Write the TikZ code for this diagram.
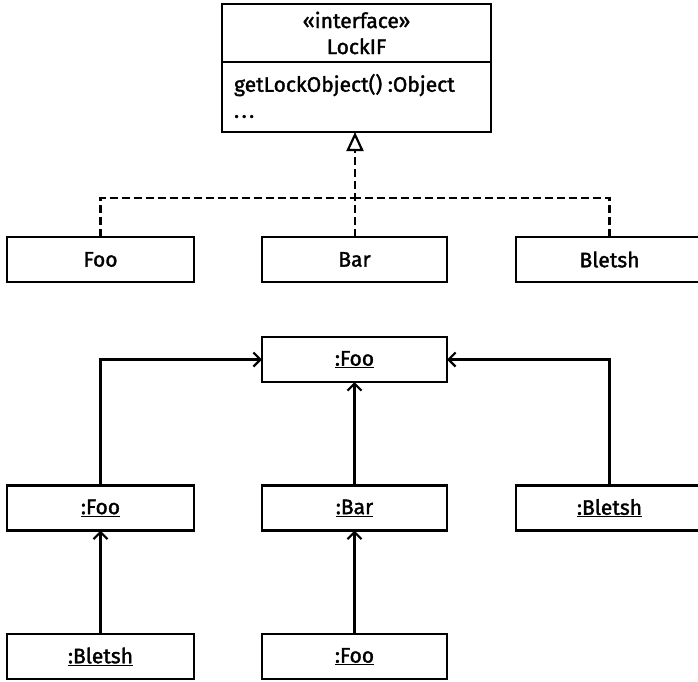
\documentclass[tikz,border=0pt]{standalone}
\usepackage{fontspec}
\setmainfont{Fira Sans}[FakeBold=1.6]
\usetikzlibrary{arrows.meta}
\begin{document}
\begin{tikzpicture}[x=1pt,y=-1pt,
  font=\fontsize{21}{26}\selectfont,
  line width=2.2pt,
  umlbox/.style={draw, rectangle, minimum width=187pt, minimum height=45pt,
    inner sep=0pt, outer sep=0pt},
  realize/.style={dash pattern=on 8pt off 4pt},
  assoc/.style={-{Straight Barb[length=7pt,width=14pt,line width=2.2pt]}}]
\useasboundingbox (0,0) rectangle (698,681);

% interface class: name compartment and operation compartment
\node[draw, rectangle, minimum width=269pt, minimum height=58pt, inner sep=0pt,
  outer sep=0pt, align=center] (lockhead) at (356.5,33)
  {«interface»\\LockIF};
\node[draw, rectangle, minimum width=269pt, minimum height=70pt, inner sep=0pt,
  outer sep=0pt, anchor=north] (lockops) at (lockhead.south) {};
\node[anchor=west, align=left, inner sep=0pt] (opstext) at ([xshift=11pt,yshift=1pt]lockops.west)
  {getLockObject() :Object\\.\hspace{2.5pt}.\hspace{2.5pt}.};

% implementing classes
\node[umlbox] (foo)    at (100.5,259.5) {Foo};
\node[umlbox, minimum width=185pt] (bar) at (354.5,259.5) {Bar};
\node[umlbox] (bletsh) at (609.5,259.5) {Bletsh};

% realization connectors
\coordinate (join) at (355,198);
\draw[realize] (foo.north) |- (join);
\draw[realize] (bletsh.north) |- (join);
\draw[realize, -{Triangle[open, length=19pt, width=17pt, line width=2.2pt]}]
  (bar.north -| join) -- (join |- lockops.south);

% object instances
\node[umlbox, minimum width=185pt] (tfoo) at (354.5,359.5) {\underline{:Foo}};
\node[umlbox] (mfoo)    at (100.5,508) {\underline{:Foo}};
\node[umlbox, minimum width=185pt] (mbar) at (354.5,508) {\underline{:Bar}};
\node[umlbox] (mbletsh) at (609.5,508) {\underline{:Bletsh}};
\node[umlbox] (bbletsh) at (100.5,656.5) {\underline{:Bletsh}};
\node[umlbox, minimum width=185pt] (bfoo) at (354.5,656.5) {\underline{:Foo}};

% links between instances
\draw[assoc] (mfoo.north) |- (tfoo.west);
\draw[assoc] (mbletsh.north) |- (tfoo.east);
\draw[assoc] (mbar.north) -- (tfoo.south);
\draw[assoc] (bbletsh.north) -- (mfoo.south);
\draw[assoc] (bfoo.north) -- (mbar.south);
\end{tikzpicture}
\end{document}
